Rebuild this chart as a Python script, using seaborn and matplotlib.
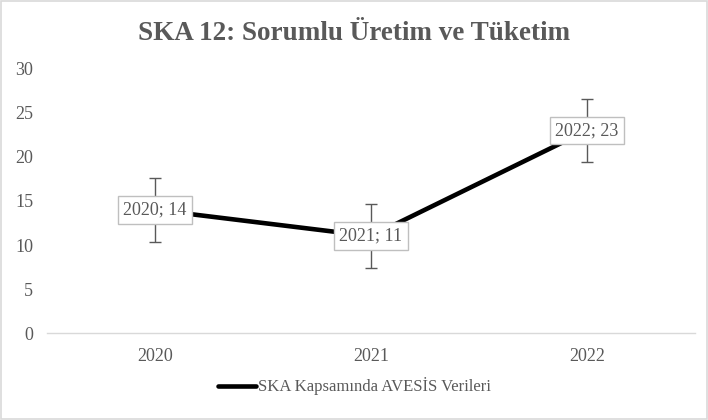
import pandas as pd
import matplotlib.pyplot as plt
import seaborn as sns
from matplotlib.patches import Rectangle

years = ['2020', '2021', '2022']
values = [14, 11, 23]
# Excel "standard error" bars
errors = [3.606, 3.606, 3.606]
series_name = 'SKA Kapsamında AVESİS Verileri'
title = 'SKA 12: Sorumlu Üretim ve Tüketim'

sns.set_style('white')
plt.rcParams['font.family'] = ['Liberation Serif', 'DejaVu Serif']

grey = '#595959'
df = pd.DataFrame({'year': years, 'value': values})

fig = plt.figure(figsize=(7.08, 4.2), dpi=100)
ax = fig.add_axes([0.0664, 0.207, 0.915, 0.629])

sns.lineplot(data=df, x='year', y='value', color='black', linewidth=3.3,
             ax=ax, label=series_name, legend=False)
ax.errorbar(range(len(years)), values, yerr=errors, fmt='none',
            ecolor=grey, elinewidth=1, capsize=4, capthick=1, zorder=3)

for i, (yr, v) in enumerate(zip(years, values)):
    ax.text(i, v, f'{yr}; {v}', ha='center', va='center', fontsize=13,
            color=grey, zorder=5,
            bbox=dict(boxstyle='square,pad=0.3', facecolor='white',
                      edgecolor='#bfbfbf', linewidth=1))

ax.set_xlim(-0.5, 2.5)
ax.set_ylim(0, 30)
ax.set_yticks(range(0, 31, 5))
ax.set_xlabel('')
ax.set_ylabel('')
ax.tick_params(axis='both', labelsize=13, colors=grey, length=0)
ax.tick_params(axis='y', pad=10)
ax.tick_params(axis='x', pad=11)
for s in ['top', 'right', 'left']:
    ax.spines[s].set_visible(False)
ax.spines['bottom'].set_color('#d9d9d9')
ax.spines['bottom'].set_linewidth(1)

fig.suptitle(title, x=0.5, y=0.95, fontsize=19.5, fontweight='bold', color=grey)

handles, labels = ax.get_legend_handles_labels()
fig.legend(handles, labels, loc='center', bbox_to_anchor=(0.5, 0.08),
           frameon=False, fontsize=12, handlelength=2.3, handletextpad=0.1,
           labelcolor=grey)

fig.patches.append(Rectangle((0.002, 0.002), 0.996, 0.996, transform=fig.transFigure,
                             fill=False, edgecolor='#d9d9d9', linewidth=1.2))

fig.savefig('out.png', dpi=100, facecolor='white')
